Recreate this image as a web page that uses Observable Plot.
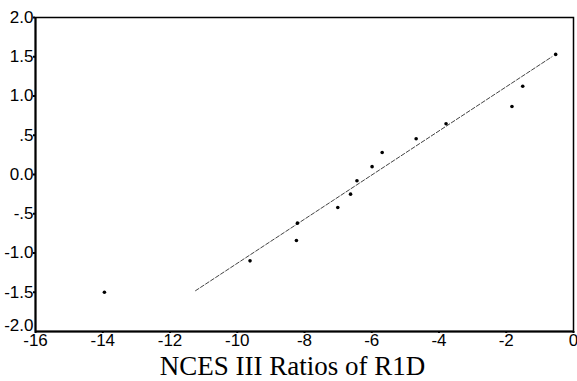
<!DOCTYPE html>
<html><head><meta charset="utf-8">
<script src="https://cdn.jsdelivr.net/npm/d3@7"></script>
<script src="https://cdn.jsdelivr.net/npm/@observablehq/plot@0.6"></script>
<style>
body{margin:0;background:#fff;}
#title{font-family:"Liberation Serif","Times New Roman",serif;font-size:27px;color:#000;text-align:center;width:577px;position:absolute;left:4px;top:353px;line-height:27px;height:27px;white-space:nowrap;}
</style></head><body>
<div id="chart"></div>
<div id="title">NCES III Ratios of R1D</div>
<script>
const xs = [-13.95, -9.62, -8.24, -8.21, -7.01, -6.63, -6.44, -5.99, -5.69, -4.68, -3.79, -1.83, -1.51, -0.53];
const ys = [-1.50, -1.10, -0.84, -0.62, -0.42, -0.25, -0.08, 0.10, 0.28, 0.455, 0.646, 0.866, 1.125, 1.53];
const lineX = [-11.24, -0.64];
const lineY = [-1.48, 1.50];
const xTicks = [-16, -14, -12, -10, -8, -6, -4, -2, 0];
const yTicks = [2.0, 1.5, 1.0, 0.5, 0.0, -0.5, -1.0, -1.5, -2.0];
const yLabels = ["2.0", "1.5", "1.0", ".5", "0.0", "-.5", "-1.0", "-1.5", "-2.0"];

const pts = xs.map((x, i) => ({x, y: ys[i]}));
const fit = lineX.map((x, i) => ({x, y: lineY[i]}));
const yFmt = d => yLabels[yTicks.indexOf(d)];

const chart = Plot.plot({
  width: 577, height: 350,
  marginLeft: 35, marginRight: 4, marginTop: 17, marginBottom: 19,
  style: {fontFamily: "'Liberation Sans', Arial, sans-serif", fontSize: "17px", color: "#000", background: "#fff"},
  x: {domain: [-16, 0], label: null},
  y: {domain: [-2, 2], label: null},
  marks: [
    Plot.frame({stroke: "#000", strokeWidth: 1.5}),
    Plot.ruleX([-16], {stroke: "#000", strokeWidth: 2}),
    Plot.ruleY([-2], {stroke: "#000", strokeWidth: 2}),
    Plot.axisX(xTicks, {tickFormat: d => String(d), tickSize: 2, tickPadding: 0, label: null, strokeWidth: 2}),
    Plot.axisY(yTicks.slice(0, -1), {tickFormat: yFmt, tickSize: 2, tickPadding: 0, label: null, strokeWidth: 2}),
    Plot.axisY(yTicks.slice(-1), {tickFormat: yFmt, tickSize: 0, tickPadding: 2, dy: -6, label: null}),
    Plot.line(fit, {x: "x", y: "y", stroke: "#444", strokeWidth: 1, strokeDasharray: "4,2"}),
    Plot.dot(pts, {x: "x", y: "y", r: 1.8, fill: "#000", stroke: "none"})
  ]
});
document.getElementById("chart").appendChild(chart);
</script>
</body></html>
